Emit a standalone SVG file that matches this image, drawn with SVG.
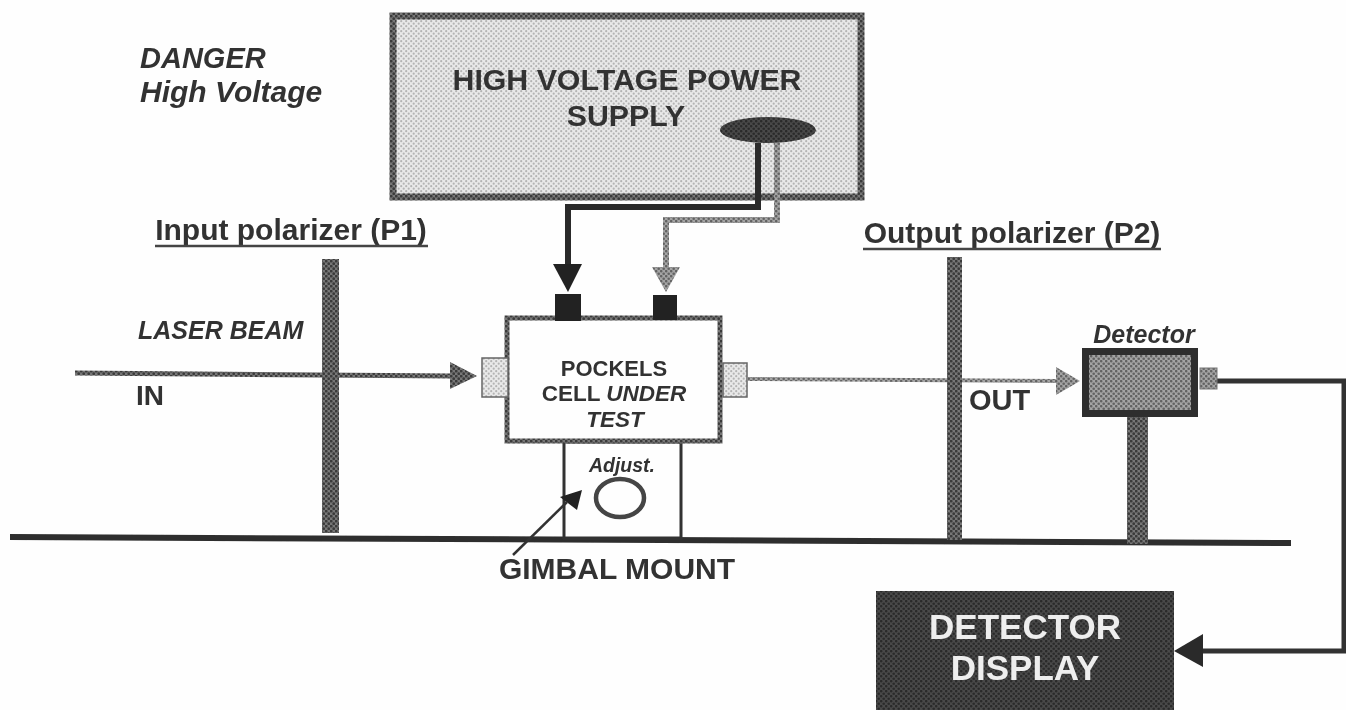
<svg xmlns="http://www.w3.org/2000/svg" width="1346" height="710" viewBox="0 0 1346 710">
<style>
text{font-family:"Liberation Sans",Arial,sans-serif;fill:#333;font-weight:bold;text-anchor:middle}
.i{font-style:italic}
.l{text-anchor:start}
.w{fill:#eee}
</style>
<defs>
<filter id="soft" x="0" y="0" width="1346" height="710" filterUnits="userSpaceOnUse"><feGaussianBlur stdDeviation="0.55"/></filter>
<pattern id="light" width="5" height="5" patternUnits="userSpaceOnUse"><rect width="5" height="5" fill="#e9e9e9"/><circle cx="1.200" cy="1.200" r="1.100" fill="#b4b4b4"/><circle cx="3.700" cy="3.700" r="1.100" fill="#b4b4b4"/></pattern>
<pattern id="mid" width="5" height="5" patternUnits="userSpaceOnUse"><rect width="5" height="5" fill="#a4a4a4"/><circle cx="1.200" cy="1.200" r="1.300" fill="#626262"/><circle cx="3.700" cy="3.700" r="1.300" fill="#626262"/></pattern>
<pattern id="dark" width="5" height="5" patternUnits="userSpaceOnUse"><rect width="5" height="5" fill="#777"/><circle cx="1.200" cy="1.200" r="1.400" fill="#3a3a3a"/><circle cx="3.700" cy="3.700" r="1.400" fill="#3a3a3a"/></pattern>
<pattern id="vdark" width="5" height="5" patternUnits="userSpaceOnUse"><rect width="5" height="5" fill="#4a4a4a"/><circle cx="1.200" cy="1.200" r="1.300" fill="#2a2a2a"/><circle cx="3.700" cy="3.700" r="1.300" fill="#2a2a2a"/></pattern>
</defs>
<rect width="1346" height="710" fill="#fefefe"/>
<g filter="url(#soft)">
<g id="danger"><text class="i l" x="140" y="68" font-size="29">DANGER</text><text class="i l" x="140" y="102" font-size="30">High Voltage</text></g>
<g id="base"><path d="M10 537L1291 543" stroke="#2e2e2e" stroke-width="6" fill="none"/></g>
<g id="power-supply">
<rect x="393" y="16" width="468" height="181" fill="url(#light)" stroke="url(#dark)" stroke-width="7"/>
<text x="627" y="90" font-size="30.300">HIGH VOLTAGE POWER</text>
<text x="626" y="126" font-size="30.300">SUPPLY</text>
<ellipse cx="768" cy="130" rx="48" ry="13" fill="url(#vdark)"/>
</g>
<g id="gimbal">
<rect x="564" y="442" width="117" height="96" fill="#fefefe" stroke="#333" stroke-width="3"/>
<text class="i" x="622" y="472" font-size="19.500">Adjust.</text>
<ellipse cx="620" cy="498" rx="24" ry="19" fill="none" stroke="#444" stroke-width="4.500"/>
<text x="617" y="579" font-size="30">GIMBAL MOUNT</text>
</g>
<g id="connectors" fill="none">
<path d="M758 143V207H568V268" stroke="#2a2a2a" stroke-width="6"/>
<path d="M777 143V220H666V268" stroke="url(#mid)" stroke-width="6"/>
<path d="M75 373L452 376" stroke="url(#dark)" stroke-width="5"/>
<path d="M748 379L1058 381" stroke="url(#mid)" stroke-width="4"/>
<path d="M1217 381H1344V651H1200" stroke="#333" stroke-width="5"/>
<path d="M513 555L567 502" stroke="#333" stroke-width="2.500"/>
<g stroke="none">
<polygon points="553,264 582,264 568,292" fill="#222"/>
<polygon points="652,267 680,267 666,292" fill="url(#mid)"/>
<polygon points="450,362 477,376 450,389" fill="url(#dark)"/>
<polygon points="1056,367 1080,381 1056,395" fill="url(#mid)"/>
<polygon points="1174,651 1203,634 1203,667" fill="#2a2a2a"/>
<polygon points="582,490 560,497 577,510" fill="#222"/>
</g>
</g>
<g id="input-polarizer">
<text x="291" y="240" font-size="30">Input polarizer (P1)</text>
<path d="M155 246H428" stroke="#444" stroke-width="2.500"/>
<rect x="322" y="259" width="17" height="274" fill="url(#dark)"/>
</g>
<g id="output-polarizer">
<text x="1012" y="243" font-size="30">Output polarizer (P2)</text>
<path d="M863 249H1161" stroke="#444" stroke-width="2.500"/>
<rect x="947" y="257" width="15" height="283" fill="url(#dark)"/>
</g>
<g id="labels">
<text class="i l" x="138" y="339" font-size="25">LASER BEAM</text>
<text class="l" x="136" y="405" font-size="28">IN</text>
<text class="l" x="969" y="410" font-size="29">OUT</text>
</g>
<g id="pockels-cell">
<rect x="507" y="318" width="213" height="123" fill="#fefefe" stroke="url(#dark)" stroke-width="5"/>
<rect x="482" y="358" width="26" height="39" fill="url(#light)" stroke="#666" stroke-width="1.500"/>
<rect x="723" y="363" width="24" height="34" fill="url(#light)" stroke="#666" stroke-width="1.500"/>
<rect x="555" y="294" width="26" height="27" fill="#222"/>
<rect x="653" y="295" width="24" height="25" fill="#222"/>
<text x="614" y="376" font-size="22">POCKELS</text>
<text x="614" y="401" font-size="22.500">CELL <tspan class="i">UNDER</tspan></text>
<text class="i" x="615" y="427" font-size="22.500">TEST</text>
</g>
<g id="detector">
<text class="i" x="1144" y="343" font-size="25">Detector</text>
<rect x="1127" y="412" width="21" height="132" fill="url(#dark)"/>
<rect x="1085.500" y="351.500" width="109" height="62" fill="url(#mid)" stroke="#2e2e2e" stroke-width="7"/>
<rect x="1200" y="368" width="17" height="21" fill="url(#mid)" stroke="#777" stroke-width="1"/>
</g>
<g id="detector-display">
<rect x="876" y="591" width="298" height="119" fill="url(#vdark)"/>
<text class="w" x="1025" y="639" font-size="35">DETECTOR</text>
<text class="w" x="1025" y="680" font-size="35">DISPLAY</text>
</g>
</g>
</svg>
